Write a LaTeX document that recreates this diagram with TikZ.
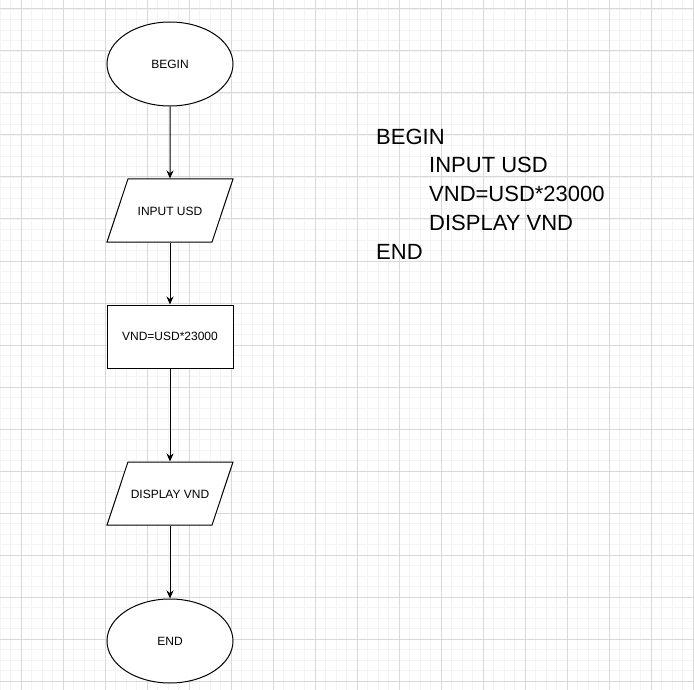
\documentclass[tikz,border=0pt]{standalone}
\usepackage{fontspec}
\setmainfont{Liberation Sans}
\usetikzlibrary{shapes.geometric,arrows.meta}
\definecolor{gridmajor}{HTML}{D9D9D9}
\definecolor{gridminor}{HTML}{F4F4F4}
\begin{document}
\begin{tikzpicture}[x=1pt,y=-1pt,
  terminal/.style={ellipse,draw,line width=1pt,fill=white,inner sep=0pt,
    minimum width=126pt,minimum height=84pt,font=\fontsize{12}{14}\selectfont},
  inout/.style={trapezium,trapezium left angle=71.6,trapezium right angle=108.4,
    trapezium stretches body=true,draw,line width=1pt,fill=white,
    inner xsep=0pt,inner ysep=27pt,text height=9pt,text depth=0pt,
    minimum width=126pt,font=\fontsize{12}{14}\selectfont},
  process/.style={rectangle,draw,line width=1pt,fill=white,inner sep=0pt,
    minimum width=126pt,minimum height=63pt,font=\fontsize{12}{14}\selectfont},
  flow/.style={-{Stealth[length=8pt,width=7pt]},line width=1pt}]
\useasboundingbox[fill=white] (0,0) rectangle (694,690);
% grid paper
\foreach \i in {0,...,66} \draw[gridminor,line width=0.8pt] (\i*10.5,0) -- (\i*10.5,690);
\foreach \i in {0,...,64} \draw[gridminor,line width=0.8pt] (0,9+\i*10.5) -- (694,9+\i*10.5);
\foreach \i in {0,...,16} \draw[gridmajor,line width=1pt] (21+\i*42,0) -- (21+\i*42,690);
\foreach \i in {0,...,16} \draw[gridmajor,line width=1pt] (0,9+\i*42) -- (694,9+\i*42);
% flowchart
\node[terminal] (begin) at (170,64) {BEGIN};
\node[inout] (input) at (170,210.5) {INPUT USD};
\node[process] (calc) at (170,336.5) {VND=USD*23000};
\node[inout] (display) at (170,493.5) {DISPLAY VND};
\node[terminal] (end) at (170,641) {END};
\draw[flow] (begin) -- (input);
\draw[flow] (input) -- (calc);
\draw[flow] (calc) -- (display);
\draw[flow] (display) -- (end);
% pseudocode
\node[anchor=base west,align=left,inner sep=0pt,font=\fontsize{22}{28.7}\selectfont] (code) at (376,259)
  {BEGIN\\ \hspace*{53pt}INPUT USD\\ \hspace*{53pt}VND=USD*23000\\ \hspace*{53pt}DISPLAY VND\\ END};
\end{tikzpicture}
\end{document}
